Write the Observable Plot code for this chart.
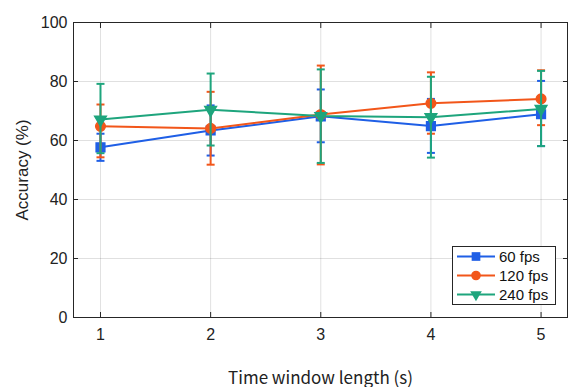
<!DOCTYPE html>
<html>
<head>
<meta charset="utf-8">
<script src="https://cdn.jsdelivr.net/npm/d3@7"></script>
<script src="https://cdn.jsdelivr.net/npm/@observablehq/plot@0.6"></script>
<style>
  body { margin: 0; background: #fff; }
  #wrap { position: relative; width: 568px; height: 387px; }
  #legend { position: absolute; left: 452px; top: 246px; width: 102px; height: 57px;
    border: 1px solid #262626; background: #fff; box-sizing: content-box;
    font-family: "Liberation Sans", Arial, sans-serif; font-size: 15px; color: #111; }
  .row { display: flex; align-items: center; height: 19px; }
  .row svg { display: block; margin-left: 3px; margin-right: 3px; }
</style>
</head>
<body>
<div id="wrap"><div id="legend"></div></div>
<script>
const xs = [1, 2, 3, 4, 5];
const yTicks = [0, 20, 40, 60, 80, 100];
const seriesNames = ["60 fps", "120 fps", "240 fps"];

const acc60  = [57.7, 63.4, 68.2, 64.9, 68.9];
const lo60   = [53.1, 54.9, 59.4, 55.8, 58.1];
const hi60   = [62.3, 71.9, 77.3, 74.1, 80.2];

const acc120 = [64.8, 64.1, 68.8, 72.6, 74.1];
const lo120  = [54.3, 51.8, 51.9, 62.3, 65.2];
const hi120  = [72.2, 76.5, 85.4, 83.1, 83.8];

const acc240 = [67.1, 70.4, 68.3, 67.9, 70.7];
const lo240  = [55.7, 58.3, 52.4, 54.2, 58.1];
const hi240  = [79.2, 82.7, 84.1, 81.6, 83.6];

const colors = ["#1f5fe6", "#f2561a", "#1ea57d"];
const symbols = ["square", "circle", "triangle"];
const symbolR = [4.9, 4.8, 4.3];
const symbolRotate = [0, 0, 180];

const seriesData = [[acc60, lo60, hi60], [acc120, lo120, hi120], [acc240, lo240, hi240]];

const capSymbol = {
  draw(ctx, size) {
    const r = Math.sqrt(size / Math.PI);
    ctx.moveTo(-r, 0); ctx.lineTo(r, 0);
  }
};

const ink = "#262626";
const tickFont = "'Liberation Sans', Arial, sans-serif";

const marks = [
  Plot.gridX(xs, {stroke: "#000", strokeOpacity: 0.12}),
  Plot.gridY(yTicks, {stroke: "#000", strokeOpacity: 0.12}),
];

seriesData.forEach(([acc, lo, hi], s) => {
  const rows = xs.map((x, i) => ({x, y: acc[i], lo: lo[i], hi: hi[i]}));
  const c = colors[s];
  marks.push(
    Plot.ruleX(rows, {x: "x", y1: "lo", y2: "hi", stroke: c, strokeWidth: 2}),
    Plot.dot(rows, {x: "x", y: "lo", symbol: capSymbol, r: 4, stroke: c, strokeWidth: 2, fill: "none"}),
    Plot.dot(rows, {x: "x", y: "hi", symbol: capSymbol, r: 4, stroke: c, strokeWidth: 2, fill: "none"}),
    Plot.line(rows, {x: "x", y: "y", stroke: c, strokeWidth: 2}),
    Plot.dot(rows, {x: "x", y: "y", symbol: symbols[s], r: symbolR[s], rotate: symbolRotate[s], fill: c, stroke: c})
  );
});

marks.push(
  Plot.frame({stroke: ink, strokeWidth: 1}),
  // inward tick marks
  Plot.axisX(xs, {anchor: "bottom", tickSize: 5, dy: -5, tickFormat: () => "", label: null, stroke: ink}),
  Plot.axisX(xs, {anchor: "top", tickSize: 5, dy: 5, tickFormat: () => "", label: null, stroke: ink}),
  Plot.axisY(yTicks, {anchor: "left", tickSize: 5, dx: 5, tickFormat: () => "", label: null, stroke: ink}),
  Plot.axisY(yTicks, {anchor: "right", tickSize: 5, dx: -5, tickFormat: () => "", label: null, stroke: ink}),
  // labels
  Plot.axisX(xs, {anchor: "bottom", tickSize: 0, tickPadding: 11, fontSize: 16, fill: "#222",
    label: "Time window length (s)", labelAnchor: "center", labelArrow: "none", labelOffset: 66}),
  Plot.axisY(yTicks, {anchor: "left", tickSize: 0, tickPadding: 6, fontSize: 16, fill: "#222",
    label: "Accuracy (%)", labelAnchor: "center", labelArrow: "none", labelOffset: 58})
);

const chart = Plot.plot({
  width: 568,
  height: 387,
  marginLeft: 73,
  marginRight: 1,
  marginTop: 22,
  marginBottom: 70,
  style: {fontFamily: tickFont, fontSize: "16px", color: "#222", background: "#fff"},
  x: {domain: [0.755, 5.24]},
  y: {domain: [0, 100]},
  marks
});
document.getElementById("wrap").prepend(chart);

// fonts for tick labels and axis labels
chart.querySelectorAll("[aria-label='x-axis tick label'] text, [aria-label='y-axis tick label'] text").forEach(t => {
  t.style.fontFamily = tickFont;
});
chart.querySelectorAll("[aria-label='x-axis label'] text").forEach(t => {
  t.style.fontFamily = "'Noto Sans CJK JP', sans-serif";
  t.setAttribute("font-size", "17");
});
chart.querySelectorAll("[aria-label='y-axis label'] text").forEach(t => {
  t.style.fontFamily = tickFont;
  t.setAttribute("font-size", "17");
});

// legend
const legend = document.getElementById("legend");
seriesNames.forEach((name, s) => {
  const row = document.createElement("div");
  row.className = "row";
  const type = s === 0 ? d3.symbolSquare : s === 1 ? d3.symbolCircle : d3.symbolTriangle;
  const sym = d3.symbol(type, Math.PI * symbolR[s] * symbolR[s])();
  row.innerHTML = `<svg width="40" height="19"><line x1="1" x2="39" y1="9.5" y2="9.5" stroke="${colors[s]}" stroke-width="2"/>` +
    `<path d="${sym}" transform="translate(20,9.5) rotate(${symbolRotate[s]})" fill="${colors[s]}"/></svg><span>${name}</span>`;
  legend.appendChild(row);
});
</script>
</body>
</html>
